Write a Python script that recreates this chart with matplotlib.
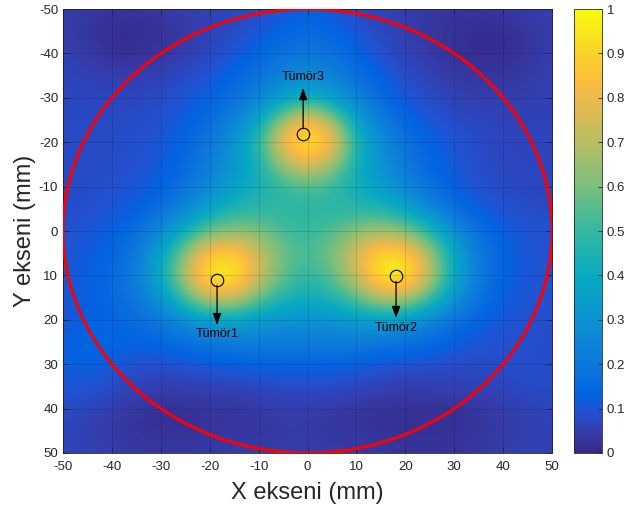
import matplotlib
matplotlib.use("Agg")
import matplotlib.pyplot as plt
import numpy as np
from matplotlib.colors import LinearSegmentedColormap
from matplotlib.patches import Circle

plt.rcParams['font.family'] = ['Liberation Sans', 'DejaVu Sans']
plt.rcParams['axes.unicode_minus'] = False

# grid positions (mm), 5 mm step
x_mm = [-50, -45, -40, -35, -30, -25, -20, -15, -10, -5, 0, 5, 10, 15, 20, 25, 30, 35, 40, 45, 50]
y_mm = [-50, -45, -40, -35, -30, -25, -20, -15, -10, -5, 0, 5, 10, 15, 20, 25, 30, 35, 40, 45, 50]

# normalised intensity, one row per y value
intensity = [
    [0.05, 0.04, 0.03, 0.03, 0.04, 0.05, 0.06, 0.07, 0.08, 0.10, 0.12, 0.10, 0.08, 0.06, 0.05, 0.04, 0.03, 0.03, 0.04, 0.05, 0.05],
    [0.05, 0.03, 0.01, 0.01, 0.02, 0.04, 0.06, 0.08, 0.10, 0.14, 0.16, 0.14, 0.10, 0.07, 0.05, 0.03, 0.02, 0.01, 0.01, 0.03, 0.05],
    [0.06, 0.04, 0.02, 0.02, 0.03, 0.05, 0.07, 0.10, 0.14, 0.18, 0.20, 0.18, 0.13, 0.09, 0.06, 0.04, 0.02, 0.01, 0.01, 0.03, 0.05],
    [0.07, 0.06, 0.05, 0.05, 0.06, 0.08, 0.10, 0.14, 0.18, 0.24, 0.28, 0.24, 0.17, 0.12, 0.08, 0.06, 0.04, 0.03, 0.03, 0.04, 0.06],
    [0.07, 0.07, 0.07, 0.07, 0.08, 0.10, 0.13, 0.17, 0.24, 0.34, 0.42, 0.34, 0.23, 0.15, 0.10, 0.08, 0.06, 0.05, 0.05, 0.05, 0.06],
    [0.08, 0.08, 0.08, 0.08, 0.09, 0.12, 0.16, 0.23, 0.38, 0.66, 0.86, 0.66, 0.36, 0.21, 0.14, 0.10, 0.08, 0.07, 0.06, 0.06, 0.06],
    [0.08, 0.08, 0.08, 0.09, 0.10, 0.14, 0.20, 0.31, 0.48, 0.86, 1.00, 0.86, 0.45, 0.28, 0.18, 0.13, 0.10, 0.08, 0.07, 0.07, 0.07],
    [0.08, 0.08, 0.08, 0.09, 0.11, 0.15, 0.22, 0.31, 0.44, 0.66, 0.80, 0.66, 0.42, 0.29, 0.20, 0.14, 0.10, 0.08, 0.07, 0.07, 0.07],
    [0.08, 0.08, 0.09, 0.10, 0.13, 0.18, 0.26, 0.35, 0.43, 0.50, 0.53, 0.50, 0.42, 0.34, 0.25, 0.17, 0.12, 0.09, 0.08, 0.07, 0.07],
    [0.08, 0.09, 0.10, 0.12, 0.17, 0.25, 0.37, 0.46, 0.49, 0.48, 0.48, 0.48, 0.47, 0.46, 0.37, 0.25, 0.16, 0.11, 0.09, 0.08, 0.08],
    [0.09, 0.10, 0.12, 0.17, 0.26, 0.42, 0.58, 0.63, 0.60, 0.52, 0.50, 0.54, 0.62, 0.67, 0.62, 0.46, 0.28, 0.17, 0.12, 0.10, 0.09],
    [0.10, 0.11, 0.14, 0.20, 0.36, 0.64, 0.88, 0.90, 0.74, 0.58, 0.52, 0.60, 0.78, 0.93, 0.90, 0.67, 0.38, 0.20, 0.13, 0.10, 0.09],
    [0.10, 0.12, 0.15, 0.22, 0.40, 0.72, 1.00, 1.00, 0.74, 0.56, 0.49, 0.56, 0.74, 1.00, 1.00, 0.72, 0.39, 0.20, 0.13, 0.10, 0.09],
    [0.10, 0.12, 0.15, 0.20, 0.31, 0.54, 0.75, 0.75, 0.58, 0.46, 0.41, 0.46, 0.57, 0.72, 0.72, 0.52, 0.31, 0.18, 0.12, 0.10, 0.09],
    [0.10, 0.12, 0.14, 0.16, 0.20, 0.28, 0.35, 0.37, 0.33, 0.30, 0.30, 0.30, 0.33, 0.35, 0.32, 0.25, 0.18, 0.13, 0.10, 0.09, 0.08],
    [0.12, 0.14, 0.14, 0.13, 0.14, 0.17, 0.20, 0.22, 0.22, 0.22, 0.22, 0.22, 0.22, 0.20, 0.18, 0.15, 0.12, 0.10, 0.09, 0.09, 0.08],
    [0.12, 0.13, 0.11, 0.09, 0.09, 0.10, 0.11, 0.12, 0.13, 0.13, 0.13, 0.13, 0.12, 0.10, 0.09, 0.09, 0.08, 0.08, 0.08, 0.09, 0.08],
    [0.10, 0.10, 0.08, 0.06, 0.05, 0.05, 0.06, 0.06, 0.07, 0.08, 0.08, 0.08, 0.07, 0.06, 0.05, 0.05, 0.06, 0.06, 0.07, 0.08, 0.08],
    [0.08, 0.07, 0.05, 0.03, 0.02, 0.02, 0.03, 0.03, 0.04, 0.05, 0.05, 0.04, 0.03, 0.02, 0.02, 0.02, 0.02, 0.03, 0.05, 0.06, 0.07],
    [0.07, 0.05, 0.04, 0.02, 0.02, 0.02, 0.03, 0.03, 0.03, 0.04, 0.04, 0.03, 0.03, 0.02, 0.02, 0.02, 0.02, 0.03, 0.04, 0.05, 0.06],
    [0.07, 0.06, 0.05, 0.04, 0.04, 0.04, 0.04, 0.05, 0.05, 0.05, 0.05, 0.05, 0.04, 0.04, 0.03, 0.03, 0.03, 0.04, 0.05, 0.06, 0.06],
]

tumor_names = ['Tümör1', 'Tümör2', 'Tümör3']
tumor_x = [-18.5, 18.1, -0.9]
tumor_y = [11.0, 10.1, -21.8]
arrow_tip_y = [21.2, 19.6, -32.2]
label_y = [23.3, 21.8, -34.6]

# parula-like colormap (anchor position, colour)
parula = LinearSegmentedColormap.from_list('parula', [
    (0 / 63, (0.2081, 0.1663, 0.5292)), (3 / 63, (0.2081, 0.2386, 0.6771)),
    (6 / 63, (0.1253, 0.3242, 0.8303)), (8 / 63, (0.0117, 0.3875, 0.8820)),
    (12 / 63, (0.0498, 0.4586, 0.8641)), (19 / 63, (0.0488, 0.5772, 0.8228)),
    (25 / 63, (0.0267, 0.6642, 0.7607)), (32 / 63, (0.2178, 0.7250, 0.6193)),
    (38 / 63, (0.4871, 0.7491, 0.4840)), (44 / 63, (0.7184, 0.7411, 0.3905)),
    (51 / 63, (0.9450, 0.7261, 0.2886)), (53 / 63, (0.9938, 0.7455, 0.2403)),
    (57 / 63, (0.9789, 0.8271, 0.1633)), (63 / 63, (0.9763, 0.9831, 0.0538))])

fig = plt.figure(figsize=(6.27, 5.15), dpi=100)
ax = fig.add_axes([0.1005, 0.1204, 0.78, 0.862])
cax = fig.add_axes([0.9155, 0.1204, 0.0447, 0.862])

step = x_mm[1] - x_mm[0]
im = ax.imshow(np.array(intensity), cmap=parula, vmin=0, vmax=1, aspect='auto',
               interpolation='bicubic',
               extent=(x_mm[0] - step / 2, x_mm[-1] + step / 2, y_mm[-1] + step / 2, y_mm[0] - step / 2))
ax.set_xlim(-50, 50)
ax.set_ylim(50, -50)

ax.add_patch(Circle((0, 0), 50, fill=False, edgecolor='#ff0000', lw=2.2, zorder=3))

for name, tx, ty, tip, ly in zip(tumor_names, tumor_x, tumor_y, arrow_tip_y, label_y):
    ax.annotate('', xy=(tx, tip), xytext=(tx, ty),
                arrowprops=dict(arrowstyle='-|>,head_length=0.7,head_width=0.25', color='k', lw=0.9,
                                shrinkA=4, shrinkB=0), zorder=4)
    ax.plot(tx, ty, 'o', mfc='none', mec='k', ms=9, mew=0.8, zorder=5)
    ax.text(tx, ly, name, ha='center', va='center', fontsize=9, color='k', zorder=5)

ticks = [-50, -40, -30, -20, -10, 0, 10, 20, 30, 40, 50]
ax.set_xticks(ticks)
ax.set_yticks(ticks)
ax.grid(True, color='k', alpha=0.15, lw=0.6)
ax.set_axisbelow(False)
ax.tick_params(direction='in', top=True, right=True, labelsize=9.5, colors='#262626', length=4, width=0.6)
ax.tick_params(axis='x', pad=6)
for s in ax.spines.values():
    s.set_color('#262626')
    s.set_linewidth(0.6)
ax.set_xlabel('X ekseni (mm)', fontsize=17, color='#262626', labelpad=6)
ax.set_ylabel('Y ekseni (mm)', fontsize=17, color='#262626', labelpad=2)

cb = fig.colorbar(im, cax=cax, ticks=[0, 0.1, 0.2, 0.3, 0.4, 0.5, 0.6, 0.7, 0.8, 0.9, 1])
cb.ax.set_yticklabels(['0', '0.1', '0.2', '0.3', '0.4', '0.5', '0.6', '0.7', '0.8', '0.9', '1'])
cb.ax.tick_params(direction='in', labelsize=9.5, colors='#262626', length=3, width=0.6)
cb.outline.set_edgecolor('#262626')
cb.outline.set_linewidth(0.6)

fig.savefig('out.png', dpi=100)
